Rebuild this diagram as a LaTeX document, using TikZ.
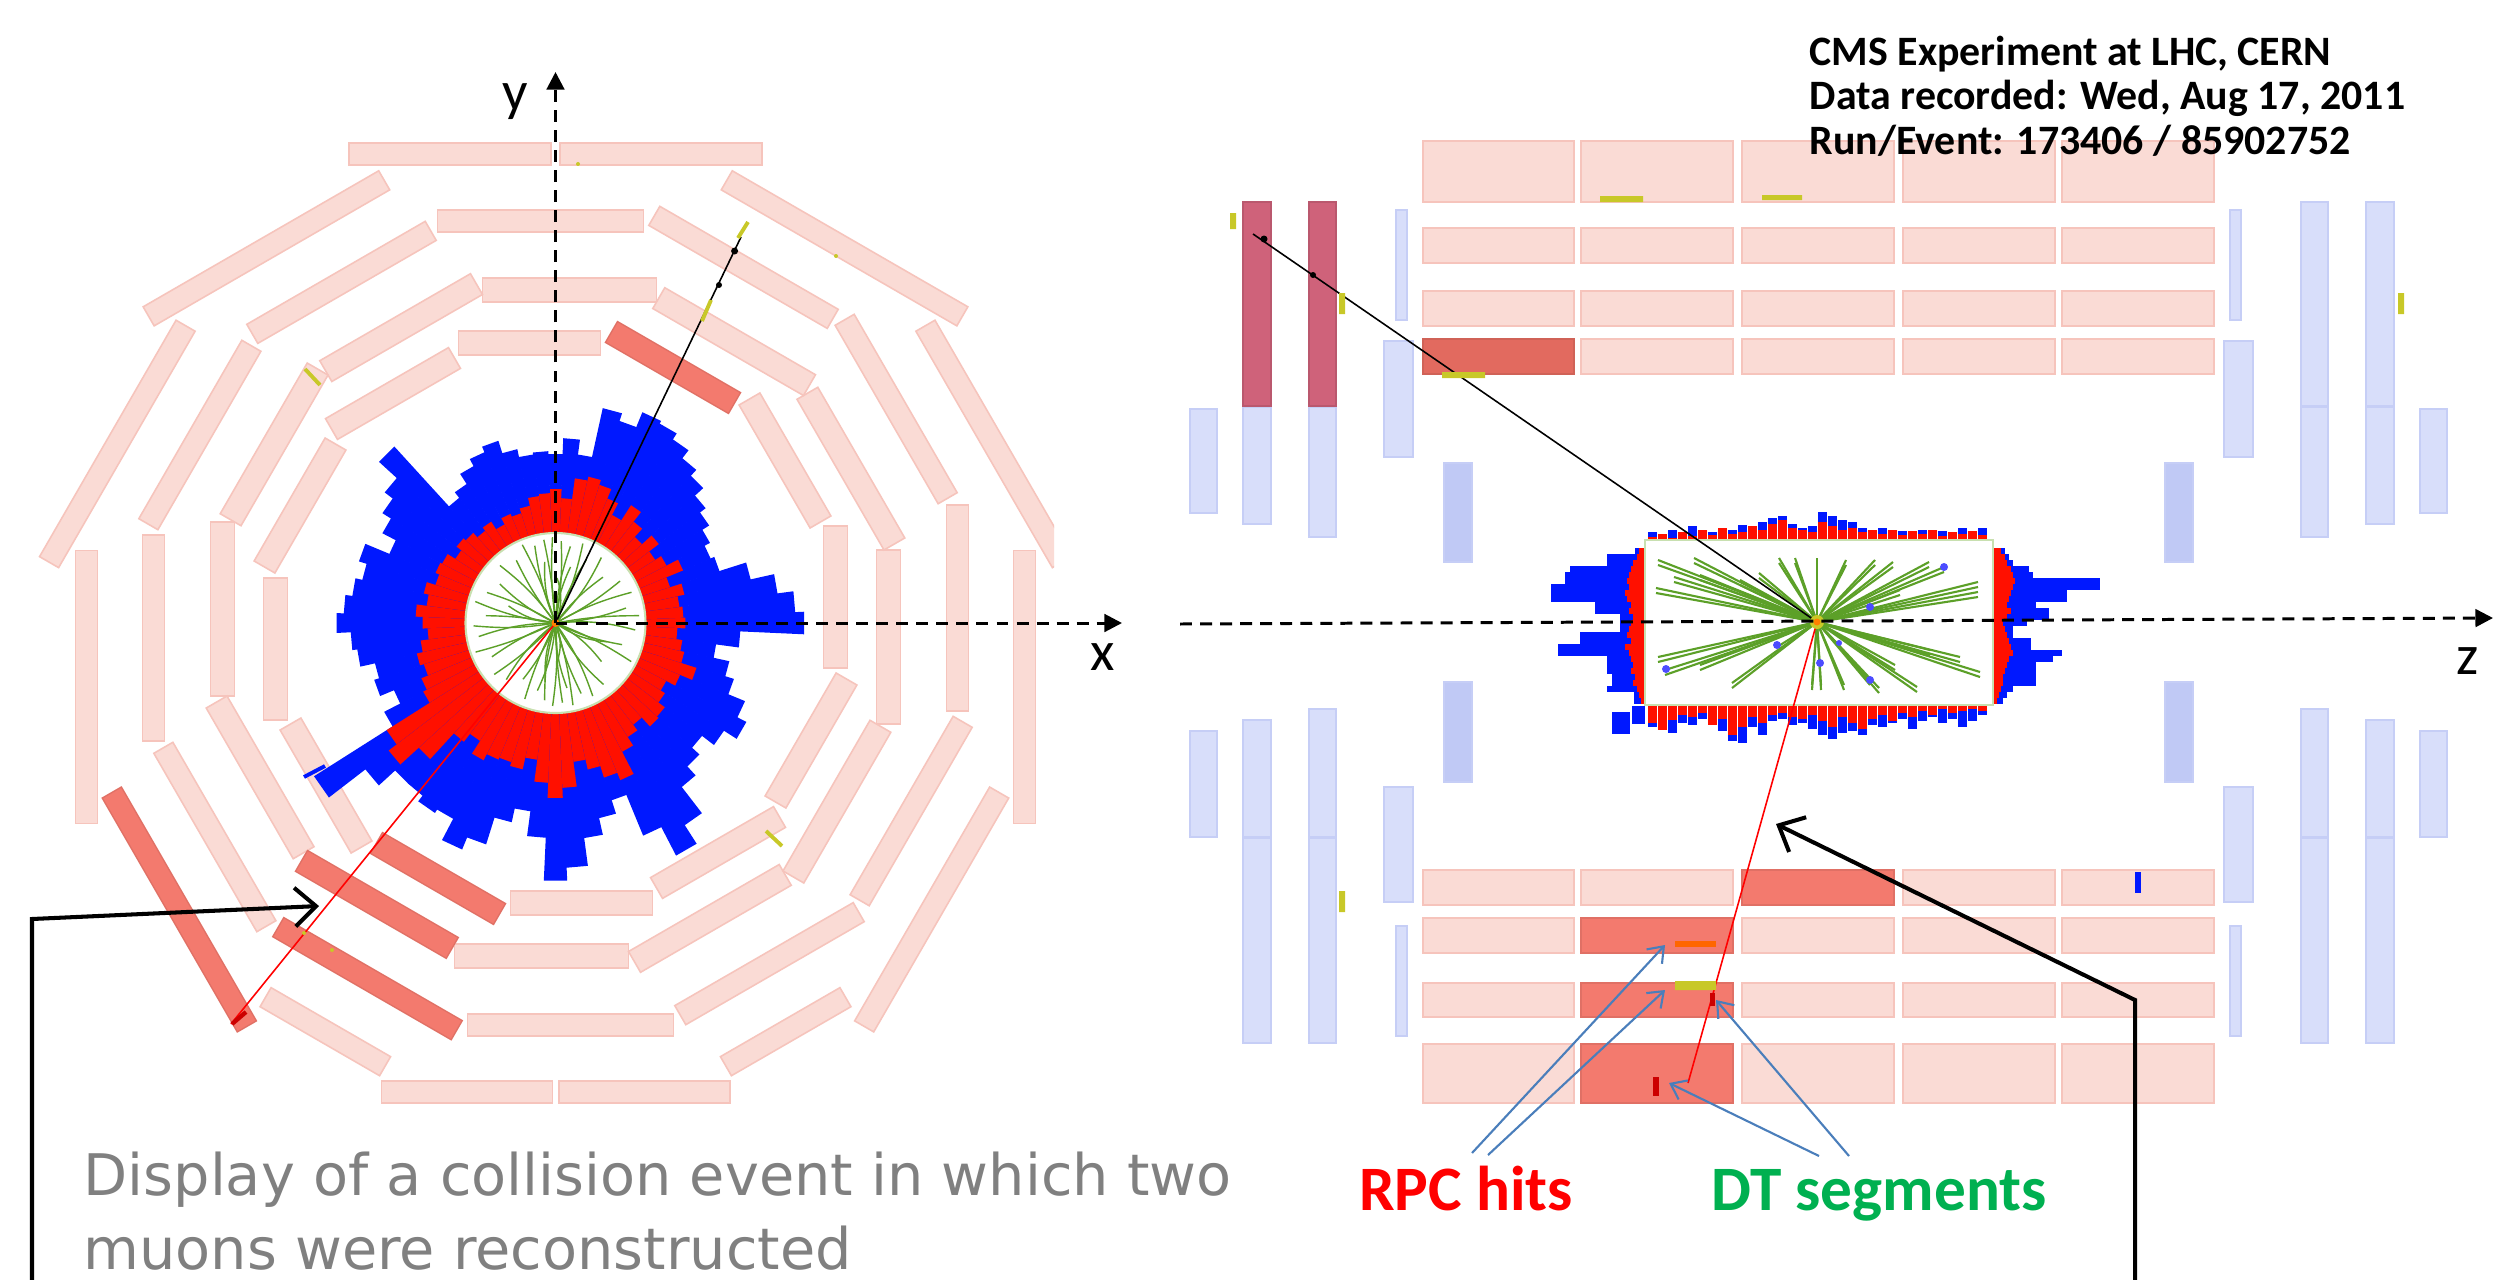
\documentclass[tikz,border=0pt]{standalone}
\usepackage{fontspec}
\setmainfont{Carlito}
\newfontfamily\capfont{DejaVu Sans}
\usetikzlibrary{arrows.meta}

\definecolor{chpink}{RGB}{250,219,213}
\definecolor{chpinkline}{RGB}{246,196,188}
\definecolor{chhit}{RGB}{243,122,110}
\definecolor{chhitdark}{RGB}{226,106,95}
\definecolor{cscblue}{RGB}{216,222,250}
\definecolor{cscblueline}{RGB}{198,206,246}
\definecolor{cscdeep}{RGB}{192,201,245}
\definecolor{cschit}{RGB}{207,98,122}
\definecolor{ecalred}{RGB}{255,16,0}
\definecolor{hcalblue}{RGB}{0,24,255}
\definecolor{trkgreen}{RGB}{92,160,40}
\definecolor{segyellow}{RGB}{200,200,40}
\definecolor{annblue}{RGB}{74,126,187}
\definecolor{rpcred}{RGB}{255,0,0}
\definecolor{dtgreen}{RGB}{0,176,80}
\definecolor{capgray}{RGB}{128,128,128}
\definecolor{trkedge}{RGB}{200,224,176}

\begin{document}
\begin{tikzpicture}[x=0.01cm,y=-0.01cm,
  mbbox/.style={fill=chpink,draw=chpinkline,line width=0.45pt},
  mbhit/.style={fill=chhit,draw=chhit!92!black,line width=0.35pt},
  cscbox/.style={fill=cscblue,draw=cscblueline,line width=0.45pt},
  cscdeepbox/.style={fill=cscdeep,draw=cscblueline,line width=0.45pt},
  cschitbox/.style={fill=cschit,draw=cschit!90!black,line width=0.35pt},
  trk/.style={draw=trkgreen,line width=0.4pt},
  ztrk/.style={draw=trkgreen,line width=0.6pt},
  seg/.style={draw=segyellow,line width=1.1pt},
  axisline/.style={draw=black,line width=0.85pt,dash pattern=on 3.4pt off 2.3pt,
                   -{Triangle[length=5pt,width=5pt]}},
  annarrow/.style={draw=black,line width=1.15pt,-{Straight Barb[length=6pt,width=11pt,line width=1.15pt]}},
  hitarrow/.style={draw=annblue,line width=0.6pt,-{Straight Barb[length=4pt,width=6pt]}},
  axlabel/.style={font=\fontsize{16}{18}\selectfont,anchor=base,inner sep=0pt},
  infotext/.style={font=\bfseries\fontsize{11.9}{13}\selectfont,anchor=base west,inner sep=0pt},
  captext/.style={font=\capfont\fontsize{16.3}{20}\selectfont,text=capgray,anchor=base west,inner sep=0pt},
  hitlabel/.style={font=\bfseries\fontsize{18}{20}\selectfont,anchor=base,inner sep=0pt}]

\fill[white] (0,0) rectangle (2495,1279);
\useasboundingbox (0,0) rectangle (2495,1279);

\coordinate (C) at (555.5,623);
\coordinate (V) at (1817,622);

%% ---------------- transverse view: barrel muon wheel ----------------
\begin{scope}
\clip (0,0) rectangle (1054,1279);
\foreach \ph in {0,30,...,330}{
  \begin{scope}[shift={(C)},rotate=\ph]
    \filldraw[mbbox] (268,-97) rectangle (292,45);
    \filldraw[mbbox] (321,-73) rectangle (345,101);
    \filldraw[mbbox] (391,-118) rectangle (413,88);
  \end{scope}
}
\foreach \ph/\v/\L in {0/64/273,30/64/273,60/63/272,90/-105.5/202,90/105.5/202,
    120/-63/272,150/-64/273,180/-64/273,210/-60/270,240/-5/138,
    270/88.5/171,270/-89/171,300/5/138,330/60/270}{
  \begin{scope}[shift={(C)},rotate=\ph]
    \filldraw[mbbox] (458,\v-\L/2) rectangle (480,\v+\L/2);
  \end{scope}
}
% chambers with hits
\begin{scope}[shift={(C)},rotate=60]
  \filldraw[mbhit] (268,-97) rectangle (292,45);
\end{scope}
\begin{scope}[shift={(C)},rotate=240]
  \filldraw[mbhit] (268,-97) rectangle (292,45);
  \filldraw[mbhit] (321,-73) rectangle (345,101);
  \filldraw[mbhit] (391,-118) rectangle (413,88);
\end{scope}
\begin{scope}[shift={(C)},rotate=210]
  \filldraw[mbhit] (458,-195) rectangle (480,75);
\end{scope}
\end{scope}

%% ---------------- calorimeter towers (transverse) ----------------
\begin{scope}[shift={(C)}]
\foreach \k/\e/\h in {0/130/249,1/128/240,2/125/224,3/132/200,4/120/172,5/138/168,
  6/125/174,7/118/182,8/130/189,9/117/200,10/128/208,11/140/218,12/122/225,13/135/228,
  14/145/212,15/150/220,16/146/170,17/125/185,18/134/169,19/130/172,20/128/170,
  21/120/178,22/115/191,23/118/185,24/111/177,25/120/165,26/116/158,27/122/239,
  28/125/215,29/119/205,30/128/195,31/130/180,32/126/206,33/135/198,34/130/205,
  35/140/212,36/133/219,37/128/205,38/136/200,39/142/185,40/138/190,41/145/175,
  42/149/193,43/200/286,44/210/240,45/185/218,46/150/218,47/140/225,48/155/221,
  49/148/245,50/146/232,51/150/204,52/138/190,53/160/215,54/175/258,55/165/245,
  56/140/217,57/150/200,58/162/186,59/170/230,60/145/262,61/135/240,62/128/207,
  63/140/195,64/138/185,65/130/200,66/125/215,67/135/205,68/148/187,69/132/178,
  70/128/162,71/122/185}{
  \pgfmathsetmacro\aa{-5*\k-2.6}
  \pgfmathsetmacro\ab{-5*\k+2.6}
  \fill[hcalblue] (\aa:88) -- (\aa:\h) -- (\ab:\h) -- (\ab:88) -- cycle;
  \fill[ecalred] (\aa:88) -- (\aa:\e) -- (\ab:\e) -- (\ab:88) -- cycle;
}
\filldraw[fill=white,draw=trkedge,line width=0.6pt] (0,0) circle[radius=90];
% reconstructed tracks in the inner tracker
\foreach \a/\r/\b in {5/80/10,18/70/-8,27/85/6,40/60/12,52/78/-10,63/82/8,70/75/-6,
  78/84/5,85/80/-4,92/83/6,98/78/-8,105/70/10,112/82/-5,120/65/8,131/75/-10,140/80/6,
  152/72/-7,160/85/5,170/78/-9,178/82/7,186/70/-5,195/83/8,204/75/-6,215/68/9,
  226/80/-8,238/74/6,247/85/-5,255/80/7,262/84/-4,268/86/5,274/82/-6,281/78/8,
  289/84/-7,296/70/6,305/80/-9,316/66/8,327/77/-6,338/82/7,348/72/-8,355/84/5,
  88/40/20,272/45/-20,200/50/15,20/55/-15,100/60/-12,260/62/12,80/66/-10,285/58/10}{
  \draw[trk] (0,0) to[bend left=\b] (\a:\r);
}
\end{scope}

% muon tracks and segments (transverse)
\coordinate (mu1end) at (741,237);
\coordinate (mu2end) at (231,1024);
\draw[black,line width=0.45pt] (C) -- (mu1end);
\fill[black] (734.6,251) circle[radius=3.5] (719,285) circle[radius=3];
\draw[rpcred,line width=0.45pt] (C) -- (mu2end);
\draw[seg] (738,238) -- (748,222);
\draw[seg] (702,321) -- (711,300);
\draw[seg] (305,369) -- (320,385);
\draw[seg] (766,831) -- (782,846);
\fill[segyellow] (578,164) circle[radius=2] (836,256) circle[radius=2] (304,933) circle[radius=2] (332,950) circle[radius=2];
\draw[hcalblue,line width=1.1pt] (304,777) -- (325,766);
\draw[red!80!black,line width=1.2pt] (232,1024) -- (246,1012);
\fill[orange] (C) circle[radius=4];

% axes (transverse)
\coordinate (yend) at (555.5,72);
\coordinate (xend) at (1122,623);
\draw[axisline] (C) -- (yend);
\draw[axisline] (C) -- (xend);
\node[axlabel] (ylab) at (515,111) {y};
\node[axlabel] (xlab) at (1103,670) {x};

%% ---------------- longitudinal view ----------------
% barrel chambers
\foreach \ya/\yb in {141/202,228/263,291/326,339/374,870/905,918/953,983/1017,1044/1103}{
  \foreach \xa/\xb in {1423/1574,1581/1733,1742/1894,1903/2055,2062/2214}{
    \filldraw[mbbox] (\xa,\ya) rectangle (\xb,\yb);
  }
}
\filldraw[fill=chhitdark,draw=chhitdark!92!black,line width=0.35pt] (1423,339) rectangle (1574,374);
\filldraw[mbhit] (1742,870) rectangle (1894,905);
\filldraw[mbhit] (1581,918) rectangle (1733,953);
\filldraw[mbhit] (1581,983) rectangle (1733,1017);
\filldraw[mbhit] (1581,1044) rectangle (1733,1103);

% endcap chambers, mirrored about the interaction point
\foreach \xa/\ya/\xb/\yb in {1243/202/1271/406,1309/202/1336/406,1243/407/1271/524,
  1309/407/1336/537,1190/409/1217/513,1396/210/1407/320,1384/341/1413/457,
  1190/731/1217/837,1243/720/1271/837,1309/709/1336/837,1243/838/1271/1043,
  1309/838/1336/1043,1384/787/1413/902,1396/926/1407/1036}{
  \filldraw[cscbox] (\xa,\ya) rectangle (\xb,\yb);
  \filldraw[cscbox] (3637-\xa,\ya) rectangle (3637-\xb,\yb);
}
\foreach \ya/\yb in {463/562,682/782}{
  \filldraw[cscdeepbox] (1444,\ya) rectangle (1472,\yb);
  \filldraw[cscdeepbox] (2165,\ya) rectangle (2193,\yb);
}
\filldraw[cschitbox] (1243,202) rectangle (1271,406);
\filldraw[cschitbox] (1309,202) rectangle (1336,406);

% calorimeter towers around the tracker
\foreach \x/\r/\b in {1648/3/8,1658/6/6,1668/2/10,1678/8/8,1688/4/14,1698/10/10,1708/5/8,
  1718/12/12,1728/6/10,1738/8/15,1748/14/14,1758/10/18,1768/16/22,1778/20/24,1788/12/16,
  1798/10/12,1808/8/14,1818/18/28,1828/14/24,1838/10/20,1848/12/18,1858/8/12,1868/10/10,
  1878/6/12,1888/10/10,1898/5/9,1908/9/9,1918/6/10,1928/10/10,1938/4/9,1948/8/8,
  1958/6/12,1968/9/9,1978/5/12}{
  \fill[hcalblue] (\x,540) rectangle (\x+9,540-\b);
  \fill[ecalred] (\x,540) rectangle (\x+9,540-\r);
}
\foreach \x/\r/\b in {1648/18/22,1658/25/25,1668/15/28,1678/10/18,1688/12/20,1698/8/14,
  1708/20/20,1718/14/26,1728/30/36,1738/22/38,1748/12/22,1758/18/30,1768/10/16,
  1778/8/14,1788/12/20,1798/14/18,1808/10/24,1818/16/30,1828/22/34,1838/12/28,
  1848/18/26,1858/24/30,1868/14/20,1878/10/22,1888/16/18,1898/8/14,1908/12/24,
  1918/6/16,1928/10/12,1938/4/18,1948/8/14,1958/6/22,1968/4/16,1978/6/10}{
  \fill[hcalblue] (\x,705) rectangle (\x+9,705+\b);
  \fill[ecalred] (\x,705) rectangle (\x+9,705+\r);
}
\fill[hcalblue] (1612,712) rectangle (1630,734);
\fill[hcalblue] (1632,706) rectangle (1645,724);
\foreach \y/\r/\b in {548/6/10,554/8/38,560/12/38,566/14/75,572/16/80,578/18/80,584/16/94,
  590/20/94,596/18/94,602/14/50,608/16/50,614/12/25,620/14/25,626/16/25,632/18/65,
  638/14/65,644/20/87,650/16/87,656/14/38,662/12/38,668/14/38,674/10/33,680/12/33,
  686/8/38,692/6/11,698/4/11}{
  \fill[hcalblue] (1645-\b,\y) rectangle (1645,\y+6);
  \fill[ecalred] (1645-\r,\y) rectangle (1645,\y+6);
}
\foreach \y/\r/\b in {548/8/12,554/12/16,560/14/20,566/18/36,572/20/40,578/22/107,584/20/107,
  590/18/74,596/16/74,602/14/43,608/18/56,614/14/56,620/10/34,626/12/20,632/14/20,
  638/16/38,644/18/38,650/20/69,656/16/60,662/14/43,668/12/43,674/10/43,680/10/43,
  686/8/20,692/6/14,698/4/10}{
  \fill[hcalblue] (1993,\y) rectangle (1993+\b,\y+6);
  \fill[ecalred] (1993,\y) rectangle (1993+\r,\y+6);
}
\filldraw[fill=white,draw=trkedge,line width=0.6pt] (1645,540) rectangle (1993,705);

% reconstructed tracks in the tracker (longitudinal)
\foreach \x/\y in {1658/560,1656/588,1694/558,1674/577,1700/575,1759/573,1779/558,
  1795/558,1817/558,1846/560,1875/560,1893/562,1929/562,1944/567,1978/582,1978/592,
  1658/657,1665/670,1700/665,1732/683,1777/647,1812/685,1821/685,1844/685,1879/688,
  1917/687,1960/657,1980/672,1895/665,1870/680,1740/580,1900/590,1930/650}{
  \draw[ztrk] (V) -- (\x,\y);
  \draw[ztrk] (V) -- (\x,\y+5);
}
\fill[blue!70!white] (1944,567) circle[radius=4] (1870,607) circle[radius=4]
  (1777,645) circle[radius=4] (1820,663) circle[radius=4] (1870,680) circle[radius=4]
  (1666,669) circle[radius=4] (1839,643) circle[radius=3];

% muon tracks and segments (longitudinal)
\coordinate (mu3end) at (1253,234);
\coordinate (mu4end) at (1688,1083);
\draw[black,line width=0.45pt] (V) -- (mu3end);
\fill[black] (1264,239) circle[radius=3.5] (1313,275) circle[radius=3];
\draw[rpcred,line width=0.45pt] (V) -- (mu4end);
\fill[segyellow] (1230,213) rectangle (1236,229) (1339,293) rectangle (1345,314)
  (1600,196) rectangle (1643,202) (1762,195) rectangle (1802,200)
  (1442,372) rectangle (1485,378) (2398,293) rectangle (2404,314)
  (1339,891) rectangle (1345,912) (1675,981) rectangle (1716,990);
\fill[hcalblue] (2135,872) rectangle (2141,893);
\fill[orange!80!red] (1675,941) rectangle (1716,947);
\fill[red!80!black] (1653,1077) rectangle (1659,1096);
\fill[red!80!black] (1710,993) rectangle (1715,1006);
\fill[segyellow] (V) circle[radius=7];
\fill[orange] (V) circle[radius=3.5];

% z axis
\coordinate (zstart) at (1180,624);
\coordinate (zend) at (2493,618);
\draw[axisline] (zstart) -- (zend);
\node[axlabel] (zlab) at (2468,674) {z};

%% ---------------- texts and pointers ----------------
\node[infotext] (info1) at (1809,66) {CMS Experiment at LHC, CERN};
\node[infotext] (info2) at (1809,110) {Data recorded: Wed, Aug 17, 2011};
\node[infotext] (info3) at (1809,155) {Run/Event: 173406 / 85902752};

\node[captext] (cap1) at (83,1195) {Display of a collision event in which two};
\node[captext] (cap2) at (83,1269) {muons were reconstructed};

\node[hitlabel,text=rpcred] (rpc) at (1466,1210) {RPC hits};
\node[hitlabel,text=dtgreen] (dt) at (1879,1210) {DT segments};

\coordinate (rpcA) at (1472,1153);
\coordinate (rpcB) at (1488,1155);
\coordinate (dtA) at (1819,1156);
\coordinate (dtB) at (1849,1156);
\coordinate (rpcHitA) at (1665,945);
\coordinate (rpcHitB) at (1665,990);
\coordinate (dtHitA) at (1669,1083);
\coordinate (dtHitB) at (1716,1000);
\draw[hitarrow] (rpcA) -- (rpcHitA);
\draw[hitarrow] (rpcB) -- (rpcHitB);
\draw[hitarrow] (dtA) -- (dtHitA);
\draw[hitarrow] (dtB) -- (dtHitB);

\coordinate (la0) at (32,1282);
\coordinate (la1) at (32,919);
\coordinate (la2) at (319,906);
\draw[annarrow] (la0) -- (la1) -- (la2);
\coordinate (ra0) at (2135,1282);
\coordinate (ra1) at (2135,1000);
\coordinate (ra2) at (1776,824);
\draw[annarrow] (ra0) -- (ra1) -- (ra2);

\end{tikzpicture}
\end{document}
